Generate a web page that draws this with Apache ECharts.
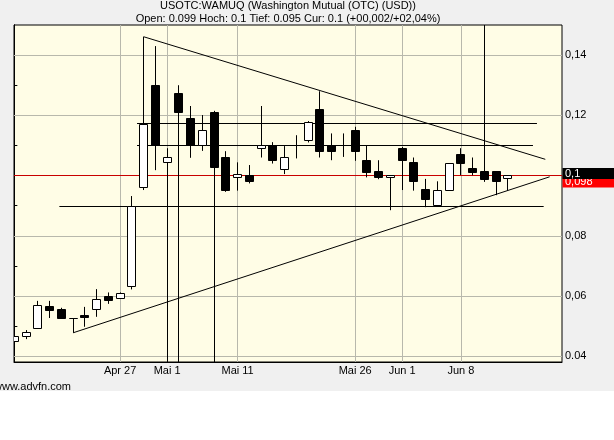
<!DOCTYPE html>
<html><head><meta charset="utf-8">
<script src="https://cdn.jsdelivr.net/npm/echarts@6/dist/echarts.min.js"></script>
<style>html,body{margin:0;padding:0;background:#fff}#c{width:614px;height:440px}</style>
</head><body><div id="c"></div>
<script>
const dates = ['Apr 14','Apr 15','Apr 16','Apr 17','Apr 20','Apr 21','Apr 22','Apr 23','Apr 24','Apr 27','Apr 28','Apr 29','Apr 30',
  'Mai 1','Mai 4','Mai 5','Mai 6','Mai 7','Mai 8','Mai 11','Mai 12','Mai 13','Mai 14','Mai 15','Mai 18','Mai 19','Mai 20','Mai 21','Mai 22',
  'Mai 26','Mai 27','Mai 28','Mai 29','Jun 1','Jun 2','Jun 3','Jun 4','Jun 5','Jun 8','Jun 9','Jun 10','Jun 11','Jun 12'];
const opens  = [0.0450,0.0467,0.0491,0.0564,0.0554,0.0525,0.0534,0.0556,0.0600,0.0593,0.0631,0.0961,0.1300,
  0.1045,0.1271,0.1190,0.1101,0.1211,0.1061,0.0995,0.1000,0.1090,0.1099,0.1021,0.1100,0.1118,0.1221,0.1101,0.1100,
  0.1149,0.1051,0.1013,0.0994,0.1091,0.1043,0.0954,0.0901,0.0952,0.1071,0.1022,0.1015,0.1012,0.0990];
const closes = [0.0467,0.0480,0.0567,0.0551,0.0527,0.0525,0.0528,0.0587,0.0586,0.0607,0.0897,0.1171,0.1101,
  0.1061,0.1208,0.1101,0.1151,0.1028,0.0950,0.1002,0.0980,0.1099,0.1049,0.1060,0.1100,0.1177,0.1079,0.1079,0.1100,
  0.1079,0.1009,0.0993,0.1000,0.1049,0.0980,0.0921,0.0951,0.1040,0.1040,0.1011,0.0988,0.0980,0.1000];
const lows   = [0.0450,0.0457,0.0491,0.0527,0.0524,0.0478,0.0498,0.0531,0.0574,0.0593,0.0622,0.0952,0.1018,
  0.0300,0.0300,0.1059,0.1082,0.0300,0.0946,0.0950,0.0974,0.1060,0.1040,0.1005,0.1057,0.1110,0.1060,0.1051,0.1062,
  0.1049,0.0994,0.0988,0.0885,0.0952,0.0950,0.0895,0.0901,0.0952,0.1002,0.1001,0.0979,0.0935,0.0950];
const highs  = [0.0467,0.0487,0.0584,0.0584,0.0561,0.0527,0.0564,0.0623,0.0612,0.0612,0.0932,0.1461,0.1430,
  0.1091,0.1300,0.1231,0.1201,0.1215,0.1081,0.1044,0.1035,0.1231,0.1111,0.1098,0.1134,0.1181,0.1280,0.1140,0.1140,
  0.1162,0.1100,0.1051,0.1000,0.1095,0.1060,0.0989,0.0981,0.1040,0.1091,0.1060,0.1600,0.1012,0.1000];

const xTickLabels = ['Apr 27','Mai 1','Mai 11','Mai 26','Jun 1','Jun 8'];
const yTickValues = [0.04,0.06,0.08,0.12,0.14];
const yTickLabels = ['0.04','0,06','0,08','0,12','0,14'];
const yMinorTicks = [0.04,0.05,0.06,0.07,0.08,0.09,0.10,0.11,0.12,0.13,0.14];
const yGridValues = [0.04,0.06,0.08,0.10,0.12,0.14];

const currentPrice = 0.1, currentLabel = '0,1';
const prevClose = 0.098, prevLabel = '0,098';

// user-drawn annotation lines: [dateIndex, price]
const trendDown = [[11, 0.1461], [45.18, 0.1054]];
const trendUp   = [[5, 0.0478], [45.55, 0.0996]];
const levelA = [[10.44, 0.1173], [44.47, 0.1173]];
const levelB = [[10.44, 0.1100], [44.13, 0.1100]];
const levelC = [[3.83, 0.0897], [45.04, 0.0897]];

const titleLine1 = 'USOTC:WAMUQ (Washington Mutual (OTC) (USD))';
const titleLine2 = 'Open: 0.099 Hoch: 0.1 Tief: 0.095 Cur: 0.1 (+00,002/+02,04%)';
const footer = 'www.advfn.com';

const FONT = '"Liberation Sans", Arial, sans-serif';
const candleData = dates.map((d, i) => [i, opens[i], closes[i], lows[i], highs[i]]);
const xTickIdx = xTickLabels.map(l => dates.indexOf(l));
const seg = p => [{coord: p[0]}, {coord: p[1]}];
const crisp = v => Math.round(v - 0.5) + 0.5;

function renderCandle(params, api) {
  const x = api.value(0), o = api.value(1), c = api.value(2), l = api.value(3), h = api.value(4);
  const pO = api.coord([x, o]), pC = api.coord([x, c]), pL = api.coord([x, l]), pH = api.coord([x, h]);
  const cx = crisp(pO[0]);
  const w = 8;
  const top = crisp(Math.min(pO[1], pC[1])), bot = crisp(Math.max(pO[1], pC[1]));
  return {
    type: 'group',
    children: [
      {type: 'line', shape: {x1: cx, y1: pH[1], x2: cx, y2: pL[1]}, style: {stroke: '#000', lineWidth: 1}},
      {type: 'rect', shape: {x: cx - w / 2, y: top, width: w, height: bot - top},
       style: {fill: c > o ? '#ffffff' : '#000000', stroke: '#000', lineWidth: 1}}
    ]
  };
}

const chart = echarts.init(document.getElementById('c'), null, {renderer: 'canvas'});
chart.setOption({
  animation: false,
  backgroundColor: '#ffffff',
  grid: {left: 14, right: 52, top: 25, bottom: 78, show: true, backgroundColor: '#fffde6', borderColor: '#000', borderWidth: 1},
  xAxis: {
    type: 'value', min: -0.03, max: 46.6,
    axisLine: {show: true, lineStyle: {color: '#000'}},
    axisTick: {show: false},
    splitLine: {show: false},
    axisLabel: {
      customValues: xTickIdx, margin: 3, color: '#000', fontFamily: FONT, fontSize: 11,
      formatter: v => { const k = xTickIdx.indexOf(Math.round(v)); return k >= 0 ? xTickLabels[k] : ''; }
    }
  },
  yAxis: [
    {
      type: 'value', position: 'right', min: 0.0381, max: 0.15,
      axisLine: {show: true, lineStyle: {color: '#000'}},
      axisTick: {show: true, customValues: yMinorTicks, length: 3, inside: false, lineStyle: {color: '#000'}},
      splitLine: {show: false},
      axisLabel: {
        customValues: yTickValues, margin: 3, color: '#000', fontFamily: FONT, fontSize: 11,
        formatter: v => { const k = yTickValues.findIndex(t => Math.abs(t - v) < 1e-6); return k >= 0 ? yTickLabels[k] : ''; }
      }
    },
    {
      type: 'value', position: 'left', min: 0.0381, max: 0.15,
      axisLine: {show: true, lineStyle: {color: '#000'}},
      axisTick: {show: true, customValues: yMinorTicks, length: 3, inside: true, lineStyle: {color: '#000'}},
      splitLine: {show: false},
      axisLabel: {show: false}
    }
  ],
  series: [
    {
      type: 'line', data: [], z: 1, silent: true,
      markLine: {
        z: 1, silent: true, symbol: 'none', animation: false,
        lineStyle: {color: '#b8b8ac', width: 1, type: 'solid'},
        label: {show: false},
        data: xTickIdx.map(i => ({xAxis: i})).concat(yGridValues.map(v => ({yAxis: v})))
      }
    },
    {
      type: 'line', data: [], z: 2, silent: true,
      markLine: {
        z: 2, silent: true, symbol: 'none', animation: false,
        lineStyle: {color: '#000', width: 1, type: 'solid'},
        label: {show: false},
        data: [seg(trendDown), seg(trendUp), seg(levelA), seg(levelB), seg(levelC),
               {yAxis: currentPrice},
               {yAxis: prevClose, lineStyle: {color: '#c80000', width: 1, type: 'solid'}}]
      }
    },
    {
      type: 'custom', z: 10, clip: true,
      renderItem: renderCandle,
      encode: {x: 0, y: [1, 2, 3, 4]},
      data: candleData
    }
  ]
});

// price tags at the right edge and texts, positioned through the axis scale
const yCur = chart.convertToPixel({yAxisIndex: 0}, currentPrice);
const yPrev = chart.convertToPixel({yAxisIndex: 0}, prevClose);
chart.setOption({
  graphic: [
    {type: 'rect', z: -100, silent: true, shape: {x: 0, y: 0, width: 614, height: 391}, style: {fill: '#f0f0f0'}},
    {type: 'text', x: 288, y: 6, silent: true, style: {text: titleLine1, font: '11px ' + FONT, fill: '#000', textAlign: 'center', textVerticalAlign: 'middle'}},
    {type: 'text', x: 288, y: 18.5, silent: true, style: {text: titleLine2, font: '11px ' + FONT, fill: '#000', textAlign: 'center', textVerticalAlign: 'middle'}},
    {type: 'text', x: -6, y: 387, silent: true, style: {text: footer, font: '11px ' + FONT, fill: '#000', textVerticalAlign: 'middle'}},
    {type: 'rect', z: 50, silent: true, shape: {x: 562.5, y: Math.round(yPrev) - 6, width: 52, height: 11.5}, style: {fill: '#ff0000'}},
    {type: 'text', z: 51, silent: true, x: 565, y: Math.round(yPrev) - 0.5, style: {text: prevLabel, font: '11px ' + FONT, fill: '#fff', textVerticalAlign: 'middle'}},
    {type: 'rect', z: 52, silent: true, shape: {x: 562.5, y: Math.round(yCur) - 8, width: 52, height: 11}, style: {fill: '#000000'}},
    {type: 'text', z: 53, silent: true, x: 565, y: Math.round(yCur) - 2, style: {text: currentLabel, font: '11px ' + FONT, fill: '#fff', textVerticalAlign: 'middle'}}
  ]
});
</script></body></html>
